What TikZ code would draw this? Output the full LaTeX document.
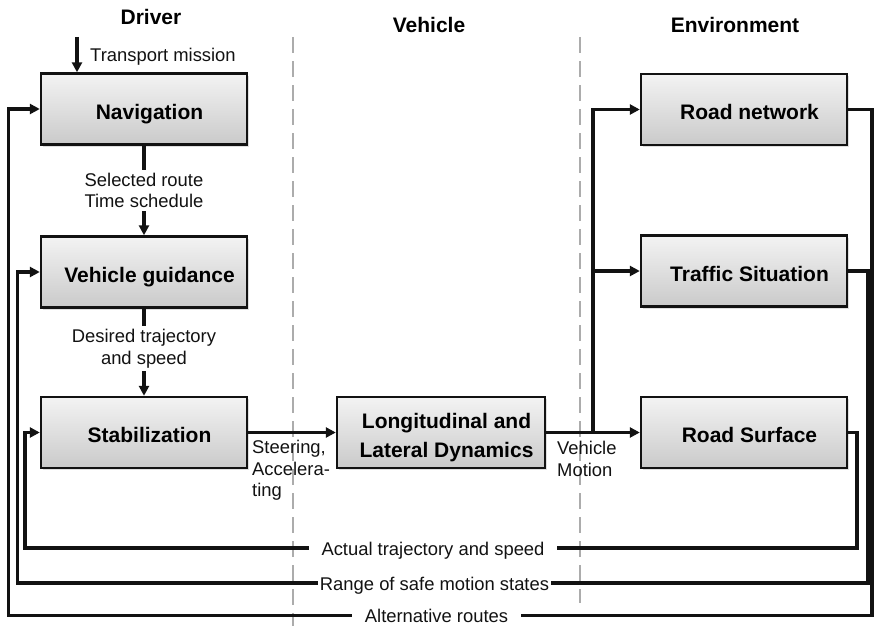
\documentclass[tikz,border=0pt]{standalone}
\usepackage{fontspec}
\setmainfont{Liberation Sans}
\usetikzlibrary{arrows.meta,shadows}
\definecolor{boxtop}{RGB}{243,243,243}
\definecolor{boxbot}{RGB}{202,202,202}
\definecolor{sepgray}{RGB}{172,172,172}
\definecolor{ink}{RGB}{18,18,18}
\newcommand{\boxline}[1]{\hspace*{11pt}\raisebox{-2.5pt}[15pt][0pt]{#1}}
\begin{document}
\begin{tikzpicture}[x=1pt,y=-1pt,
  box/.style={draw=ink, line width=2.4pt, top color=boxtop, bottom color=boxbot,
    minimum width=206pt, minimum height=71pt, inner sep=0pt, align=center,
    font=\fontsize{21}{29}\selectfont\bfseries,
    drop shadow={shadow xshift=2pt, shadow yshift=-2pt, opacity=0.25}},
  hdr/.style={font=\fontsize{21}{25}\selectfont\bfseries, inner sep=0pt},
  lbl/.style={font=\fontsize{18.4}{21.5}\selectfont, text=ink},
  conn/.style={draw=ink, line width=3.3pt, -{Triangle[length=10pt,width=10pt]}},
  sepline/.style={draw=sepgray, line width=2pt, dash pattern=on 16pt off 8pt}
]
\useasboundingbox (0,0) rectangle (874,626);
% separators
\coordinate (s1t) at (293,37); \coordinate (s1b) at (293,626);
\coordinate (s2t) at (580,37); \coordinate (s2b) at (580,603);
\draw[sepline] (s1t) -- (s1b);
\draw[sepline] (s2t) -- (s2b);
% headers
\node[hdr, anchor=base] (hd) at (151,25) {Driver};
\node[hdr, anchor=base] (hv) at (429,33) {Vehicle};
\node[hdr, anchor=base] (he) at (735,33) {Environment};
% boxes
\node[box] (nav) at (144,109) {\boxline{Navigation}};
\node[box] (guid) at (144,272) {\boxline{Vehicle guidance}};
\node[box] (stab) at (144,432.5) {\boxline{Stabilization}};
\node[box, minimum width=208pt] (long) at (441,432.5) {\boxline{Longitudinal and}\\\boxline{Lateral Dynamics}};
\node[box] (rn) at (744,109.5) {\boxline{Road network}};
\node[box] (ts) at (744,271) {\boxline{Traffic Situation}};
\node[box] (rs) at (744,432.5) {\boxline{Road Surface}};
% transport mission
\coordinate (tm) at (77,37);
\draw[conn] (tm) -- (tm |- nav.north);
\node[lbl, anchor=base west, inner sep=0pt] (tml) at (90,62) {Transport mission};
% driver chain
\draw[conn] (nav) -- (guid)
  node[midway, lbl, fill=white, align=center, inner sep=3pt] (l1) {Selected route\\Time schedule};
\draw[conn] (guid) -- (stab)
  node[pos=0.46, lbl, fill=white, align=center, inner sep=3pt] (l2) {Desired trajectory\\and speed};
\draw[conn] (stab) -- (long);
\node[lbl, align=left, anchor=north west, inner sep=0pt] (l3) at (252,440) {Steering,\\Accelera-\\ting};
\draw[conn] (long) -- (rs);
\node[lbl, align=left, anchor=north west, inner sep=0pt] (l4) at (557,441) {Vehicle\\Motion};
\coordinate (br) at (593,432.5);
\draw[conn] (br) |- (rn);
\draw[conn] (br |- ts) -- (ts);
% feedback loops
\coordinate (a1) at (857,548);   \coordinate (a2) at (25,548);
\coordinate (b1) at (868,583);   \coordinate (b2) at (17.5,583);
\coordinate (c1) at (872,615.5); \coordinate (c2) at (8.5,615.5);
\draw[conn] (rs.east) -| (a1) -- (a2) |- (stab.west);
\draw[conn] (ts.east) -| (b1) -- (b2) |- (guid.west);
\draw[conn] (rn.east) -| (c1) -- (c2) |- (nav.west);
\node[lbl, fill=white, inner xsep=13pt, inner ysep=2pt, anchor=base] (fa) at (433,555) {Actual trajectory and speed};
\node[lbl, fill=white, inner xsep=2pt, inner ysep=2pt, anchor=base] (fb) at (434.5,590) {Range of safe motion states};
\node[lbl, fill=white, inner xsep=13pt, inner ysep=2pt, anchor=base] (fc) at (436.5,622) {Alternative routes};
\end{tikzpicture}
\end{document}
